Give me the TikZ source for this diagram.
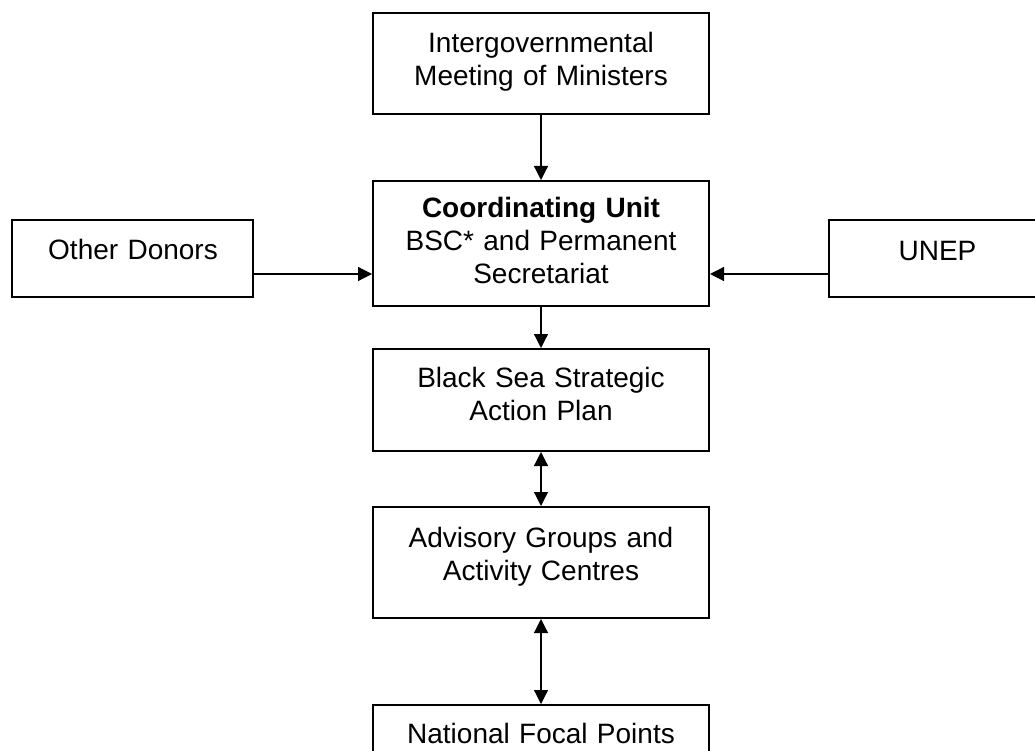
\documentclass[tikz,border=0pt]{standalone}
\usepackage{fontspec}
\setmainfont{Liberation Sans}
\usetikzlibrary{arrows.meta}
\tikzset{
  box/.style={draw, line width=2pt, inner sep=0pt, minimum width=336pt},
  lbl/.style={font=\fontsize{28}{33}\selectfont, text width=330pt, align=center, anchor=base, inner sep=0pt},
  arr/.style={line width=1.2pt, -{Triangle[length=14pt,width=14pt]}},
  darr/.style={line width=1.2pt, {Triangle[length=14pt,width=14pt]}-{Triangle[length=14pt,width=14pt]}}
}
\begin{document}
\begin{tikzpicture}[x=1pt, y=-1pt]
\useasboundingbox (0,0) rectangle (1035,751);
\clip (0,0) rectangle (1035,751);
% boxes
\node[box, minimum height=101pt] (b1) at (541,63.5) {};
\node[box, minimum height=125pt] (b2) at (541,243.5) {};
\node[box, minimum width=241pt, minimum height=77pt] (od) at (132.5,258.5) {};
\node[box, minimum width=217pt, minimum height=77pt] (un) at (937.5,258.5) {};
\node[box, minimum height=102pt] (b3) at (541,400) {};
\node[box, minimum height=111pt] (b4) at (541,562.5) {};
\node[box, minimum height=75pt] (b5) at (541,742.5) {};
% labels
\node[lbl] (t1) at (541,53) {Intergovernmental\\Meeting of Ministers};
\node[lbl] (t2) at (541,218) {\textbf{Coordinating Unit}\\BSC* and Permanent\\Secretariat};
\node[lbl, text width=230pt] (tod) at (133,259) {Other Donors};
\node[lbl, text width=210pt] (tun) at (937.5,260) {UNEP};
\node[lbl] (t3) at (541,387) {Black Sea Strategic\\Action Plan};
\node[lbl] (t4) at (541,547) {Advisory Groups and\\Activity Centres};
\node[lbl] (t5) at (541,743) {National Focal Points};
% connectors
\coordinate (hy) at (0,274);
\draw[arr] (b1.south) -- (b2.north);
\draw[arr] (od.east |- hy) -- (b2.west |- hy);
\draw[arr] (un.west |- hy) -- (b2.east |- hy);
\draw[arr] (b2.south) -- (b3.north);
\draw[darr] (b3.south) -- (b4.north);
\draw[darr] (b4.south) -- (b5.north);
\end{tikzpicture}
\end{document}
